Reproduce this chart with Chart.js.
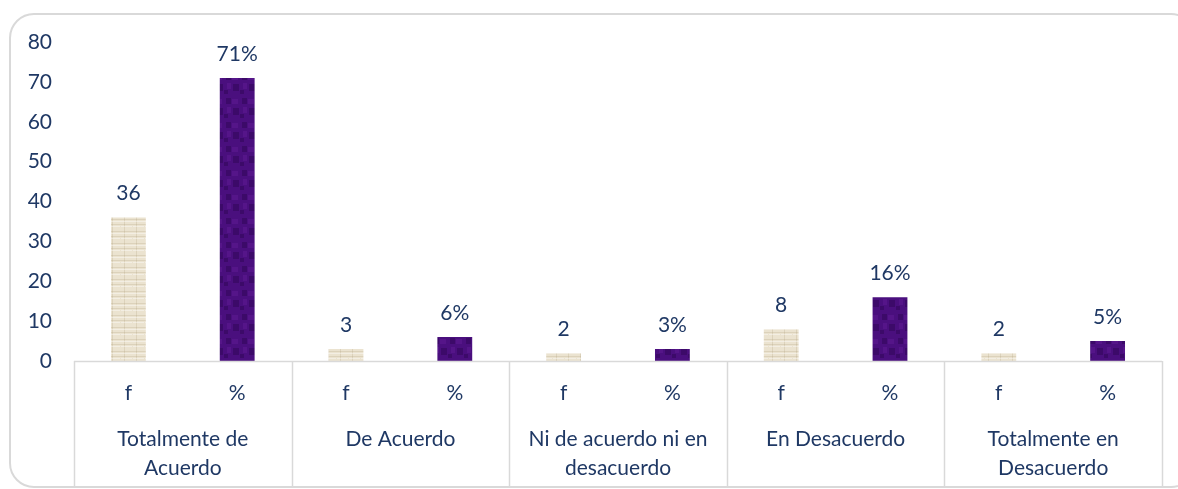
<!DOCTYPE html>
<html>
<head>
<meta charset="utf-8">
<script src="https://cdn.jsdelivr.net/npm/chart.js@4/dist/chart.umd.min.js"></script>
<style>
  html, body { margin: 0; padding: 0; background: #ffffff; }
  #wrap { width: 1178px; height: 489px; position: relative; }
</style>
</head>
<body>
<div id="wrap"><canvas id="grafico" width="1178" height="489"></canvas></div>
<script>
// Datos del gráfico
const grupos = [
    ['Totalmente de', 'Acuerdo'],
    ['De Acuerdo'],
    ['Ni de acuerdo ni en', 'desacuerdo'],
    ['En Desacuerdo'],
    ['Totalmente en', 'Desacuerdo']
];
const subEtiquetas = ['f', '%'];
const frecuencia = [36, 3, 2, 8, 2];
const porcentaje = [71, 6, 3, 16, 5];
const yMax = 80;
const yPaso = 10;

const AZUL = '#1f3864';
const LINEA = '#d9d9d9';
const FUENTE = 'Lato, "Open Sans", sans-serif';
const TAM = 21;

// Texturas de las barras (arpillera y terciopelo)
function texturaBeige(ctx) {
    const c = document.createElement('canvas');
    c.width = 12; c.height = 12;
    const g = c.getContext('2d');
    g.fillStyle = '#ebe3d0';
    g.fillRect(0, 0, 12, 12);
    g.fillStyle = 'rgba(170,150,115,0.22)';
    g.fillRect(0, 3, 12, 1);
    g.fillRect(0, 8, 12, 1);
    g.fillRect(4, 0, 1, 12);
    g.fillStyle = 'rgba(255,255,255,0.4)';
    g.fillRect(0, 5, 12, 1);
    g.fillRect(1, 10, 12, 1);
    return ctx.createPattern(c, 'repeat');
}

function texturaMorada(ctx) {
    const c = document.createElement('canvas');
    c.width = 16; c.height = 24;
    const g = c.getContext('2d');
    g.fillStyle = '#4a0f7e';
    g.fillRect(0, 0, 16, 24);
    g.fillStyle = 'rgba(30,0,55,0.3)';
    g.fillRect(2, 2, 5, 6);
    g.fillRect(9, 12, 6, 7);
    g.fillRect(0, 18, 4, 4);
    g.fillStyle = 'rgba(120,40,170,0.25)';
    g.fillRect(8, 3, 6, 5);
    g.fillRect(3, 11, 4, 6);
    return ctx.createPattern(c, 'repeat');
}

// Etiquetas y valores intercalados (f, %)
const etiquetas = [];
const valores = [];
const sufijos = [];
grupos.forEach((grupo, i) => {
    etiquetas.push(subEtiquetas[0], subEtiquetas[1]);
    valores.push(frecuencia[i], porcentaje[i]);
    sufijos.push('', '%');
});

const canvas = document.getElementById('grafico');
const ctx = canvas.getContext('2d');
const beige = texturaBeige(ctx);
const morado = texturaMorada(ctx);

// Marco redondeado, eje, separadores y categorías
const pluginDecoracion = {
    id: 'decoracion',
    beforeDraw(chart) {
        const c = chart.ctx;
        c.save();
        c.strokeStyle = LINEA;
        c.lineWidth = 2;
        c.beginPath();
        c.roundRect(10, 14, 1185, 473, 24);
        c.stroke();
        c.restore();
    },
    afterDraw(chart) {
        const c = chart.ctx;
        const x = chart.scales.x;
        const area = chart.chartArea;
        c.save();
        c.strokeStyle = LINEA;
        c.lineWidth = 1.5;
        c.beginPath();
        c.moveTo(area.left, area.bottom + 0.5);
        c.lineTo(area.right, area.bottom + 0.5);
        c.stroke();

        const ancho = (area.right - area.left) / etiquetas.length;
        for (let i = 0; i <= grupos.length; i++) {
            const px = Math.round(area.left + i * 2 * ancho) + 0.5;
            c.beginPath();
            c.moveTo(px, area.bottom);
            c.lineTo(px, 486);
            c.stroke();
        }

        c.fillStyle = AZUL;
        c.font = TAM + 'px ' + FUENTE;
        c.textAlign = 'center';
        c.textBaseline = 'middle';
        grupos.forEach((grupo, i) => {
            const centro = (x.getPixelForValue(i * 2) + x.getPixelForValue(i * 2 + 1)) / 2;
            grupo.forEach((linea, j) => {
                c.fillText(linea, centro, 439 + j * 29);
            });
        });
        c.restore();
    },
    afterDatasetsDraw(chart) {
        const c = chart.ctx;
        const meta = chart.getDatasetMeta(0);
        c.save();
        c.fillStyle = AZUL;
        c.font = TAM + 'px ' + FUENTE;
        c.textAlign = 'center';
        c.textBaseline = 'middle';
        meta.data.forEach((barra, i) => {
            c.fillText(valores[i] + sufijos[i], barra.x, barra.y - 24);
        });
        c.restore();
    }
};

new Chart(canvas, {
    type: 'bar',
    data: {
        labels: etiquetas,
        datasets: [{
            data: valores,
            backgroundColor: valores.map((v, i) => i % 2 === 0 ? beige : morado),
            borderWidth: 0,
            barPercentage: 0.32,
            categoryPercentage: 1
        }]
    },
    options: {
        responsive: false,
        animation: false,
        devicePixelRatio: 1,
        layout: {
            padding: { top: 42, right: 16, left: 0, bottom: 0 }
        },
        plugins: {
            legend: { display: false },
            tooltip: { enabled: false }
        },
        scales: {
            x: {
                grid: { display: false, drawTicks: false },
                border: { display: false },
                ticks: {
                    color: AZUL,
                    font: { family: FUENTE, size: TAM },
                    padding: 20,
                    maxRotation: 0,
                    autoSkip: false
                },
                afterFit(scale) {
                    scale.height = 128;
                }
            },
            y: {
                min: 0,
                max: yMax,
                grid: { display: false, drawTicks: false },
                border: { display: false },
                ticks: {
                    stepSize: yPaso,
                    color: AZUL,
                    font: { family: FUENTE, size: TAM },
                    padding: 22
                },
                afterFit(scale) {
                    scale.width = 74;
                }
            }
        }
    },
    plugins: [pluginDecoracion]
});
</script>
</body>
</html>
